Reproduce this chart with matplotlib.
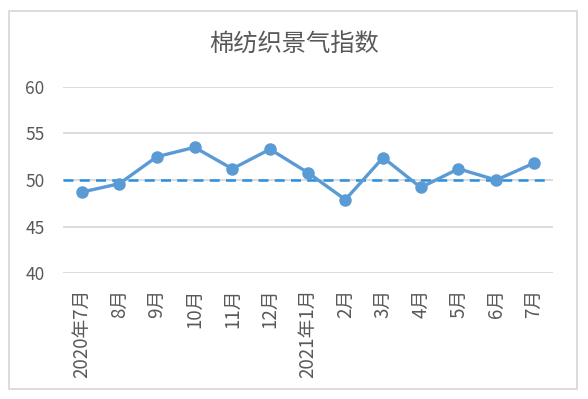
import matplotlib.pyplot as plt
from matplotlib.patches import Rectangle

plt.rcParams['font.family'] = ['Noto Sans CJK SC', 'DejaVu Sans']

months = ["2020年7月", "8月", "9月", "10月", "11月", "12月", "2021年1月",
          "2月", "3月", "4月", "5月", "6月", "7月"]
index = [48.7, 49.6, 52.5, 53.5, 51.2, 53.3, 50.8,
         47.9, 52.4, 49.2, 51.2, 50.0, 51.8]
baseline = 50
y_ticks = [40, 45, 50, 55, 60]

text_color = "#595959"
grid_color = "#D9D9D9"

fig = plt.figure(figsize=(5.88, 3.99), dpi=100)
ax = fig.add_axes([0.1066, 0.315, 0.8334, 0.4677])

# chart frame
fig.patches.append(Rectangle((9 / 588, 1 - 389 / 399), 568 / 588, 378 / 399,
                             transform=fig.transFigure, fill=False,
                             edgecolor=grid_color, linewidth=1.3))

x = list(range(len(months)))
ax.axhline(baseline, xmin=0, xmax=0.985, color="#2A8FDC", lw=1.8,
           dashes=(4, 2.5), zorder=2)
ax.plot(x, index, color="#5B9BD5", lw=2.4, marker="o", markersize=8, zorder=3)

ax.set_xlim(-0.5, len(months) - 0.5)
ax.set_ylim(40, 60)
ax.set_yticks(y_ticks)
ax.set_xticks(x)
ax.set_xticklabels(months, rotation=90, va="top", ha="center")
ax.grid(axis="y", color=grid_color, lw=1.3)
ax.set_axisbelow(True)
for s in ax.spines.values():
    s.set_visible(False)
ax.tick_params(axis="both", length=0, colors=text_color)
ax.tick_params(axis="y", pad=13, labelsize=12.5)
ax.tick_params(axis="x", pad=11, labelsize=13.5)

fig.text(294 / 588, 1 - 45 / 399, "棉纺织景气指数", ha="center", va="center",
         fontsize=17.5, color=text_color)

fig.savefig("out.png", dpi=100)
